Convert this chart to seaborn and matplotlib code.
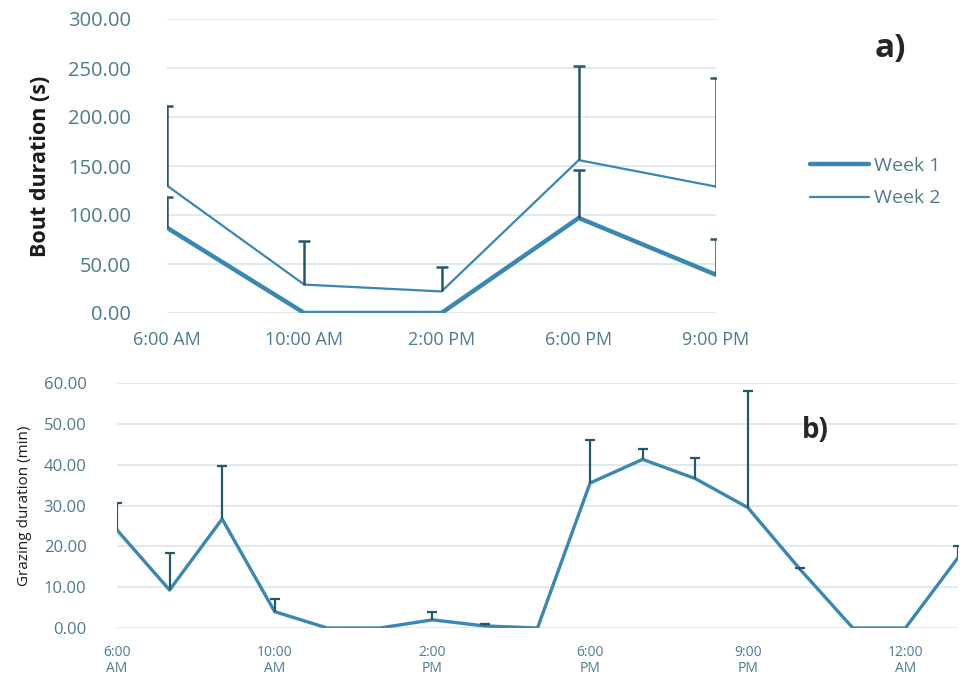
import numpy as np
import pandas as pd
import matplotlib
matplotlib.use("Agg")
import matplotlib.pyplot as plt
import seaborn as sns

# panel a) bout duration by time of day
bout_times = ["6:00 AM", "10:00 AM", "2:00 PM", "6:00 PM", "9:00 PM"]
week1 = [87.0, 0.0, 0.0, 97.0, 39.0]
week1_err = [31.0, 0.0, 0.0, 49.0, 37.0]
week2 = [130.0, 29.0, 22.0, 156.0, 129.0]
week2_err = [81.0, 44.0, 25.0, 96.0, 111.0]

# panel b) grazing duration, 17 samples, labelled every 3rd
graze = [24.0, 9.3, 26.7, 4.0, 0.0, 0.0, 2.0, 0.5, 0.0,
         35.5, 41.3, 36.6, 29.5, 14.3, 0.0, 0.0, 17.2]
graze_err = [6.5, 9.0, 13.0, 3.0, 0.0, 0.0, 2.0, 0.4, 0.0,
             10.5, 2.6, 5.0, 28.6, 0.4, 0.0, 0.0, 3.0]
graze_ticks = ["6:00\nAM", "10:00\nAM", "2:00\nPM", "6:00\nPM", "9:00\nPM", "12:00\nAM"]

sns.set_style("white")
plt.rcParams["font.family"] = ["Open Sans", "DejaVu Sans"]

line_col = "#3a87b2"
err_col = "#25586b"
tick_col = "#4f7a8d"
grid_col = "#dce8ef"

W, H = 970, 676
fig = plt.figure(figsize=(W / 100, H / 100), dpi=100)

def px_axes(x0, x1, ytop, ybot):
    return fig.add_axes([x0 / W, 1 - ybot / H, (x1 - x0) / W, (ybot - ytop) / H])

def style(ax):
    for s in ax.spines.values():
        s.set_visible(False)
    ax.grid(axis="y", color=grid_col, linewidth=1.3)
    ax.set_axisbelow(True)
    ax.tick_params(length=0, colors=tick_col)

def plus_bars(ax, x, y, err, lw, cap):
    # Excel style "plus" error bars: only the upper whisker and cap
    x = np.asarray(x, float)
    y = np.asarray(y, float)
    err = np.asarray(err, float)
    m = err > 0
    _, caps, _ = ax.errorbar(x[m], y[m], yerr=[np.zeros(m.sum()), err[m]], fmt="none",
                             ecolor=err_col, elinewidth=lw, capsize=cap, capthick=lw)
    caps[0].set_visible(False)

# ---- top panel
ax1 = px_axes(167, 716, 19, 313)
df1 = pd.DataFrame({"x": np.arange(len(bout_times)), "Week 1": week1, "Week 2": week2})
sns.lineplot(data=df1, x="x", y="Week 1", ax=ax1, color=line_col, linewidth=3.2, label="Week 1")
sns.lineplot(data=df1, x="x", y="Week 2", ax=ax1, color=line_col, linewidth=1.6, label="Week 2")
plus_bars(ax1, df1["x"], week1, week1_err, 1.8, 4)
plus_bars(ax1, df1["x"], week2, week2_err, 1.8, 4)
ax1.set_xlim(0, 4)
ax1.set_ylim(0, 300)
ax1.set_yticks(np.arange(0, 301, 50))
ax1.set_yticklabels([f"{v:.2f}" for v in np.arange(0, 301, 50)], fontsize=14.5)
ax1.set_xticks(df1["x"])
ax1.set_xticklabels(bout_times, fontsize=13)
ax1.tick_params(axis="y", pad=26)
ax1.tick_params(axis="x", pad=13)
ax1.set_xlabel("")
ax1.set_ylabel("Bout duration (s)", fontsize=15.5, fontweight="bold", color="#1a1a1a", labelpad=12)
style(ax1)
ax1.legend(loc="center left", bbox_to_anchor=(1.14, 0.445), frameon=False,
           fontsize=14, labelcolor=tick_col, handlelength=3.0, handletextpad=0.25,
           labelspacing=0.75)
fig.text(890 / W, 1 - 48 / H, "a)", fontsize=24, fontweight="bold", ha="center", va="center")

# ---- bottom panel
ax2 = px_axes(117, 958, 383, 628)
df2 = pd.DataFrame({"x": np.arange(len(graze)), "graze": graze})
sns.lineplot(data=df2, x="x", y="graze", ax=ax2, color=line_col, linewidth=2.4)
plus_bars(ax2, df2["x"], graze, graze_err, 1.6, 3.5)
ax2.set_xlim(0, len(graze) - 1)
ax2.set_ylim(0, 60)
ax2.set_yticks(np.arange(0, 61, 10))
ax2.set_yticklabels([f"{v:.2f}" for v in np.arange(0, 61, 10)], fontsize=12)
ax2.set_xticks(np.arange(0, len(graze), 3))
ax2.set_xticklabels(graze_ticks, fontsize=10, linespacing=1.15)
ax2.tick_params(axis="y", pad=22)
ax2.tick_params(axis="x", pad=12)
ax2.set_xlabel("")
ax2.set_ylabel("Grazing duration (min)", fontsize=11, color="#1a1a1a", labelpad=8)
style(ax2)
fig.text(815 / W, 1 - 430 / H, "b)", fontsize=20, fontweight="bold", ha="center", va="center")

fig.savefig("out.png", dpi=100, facecolor="white")
